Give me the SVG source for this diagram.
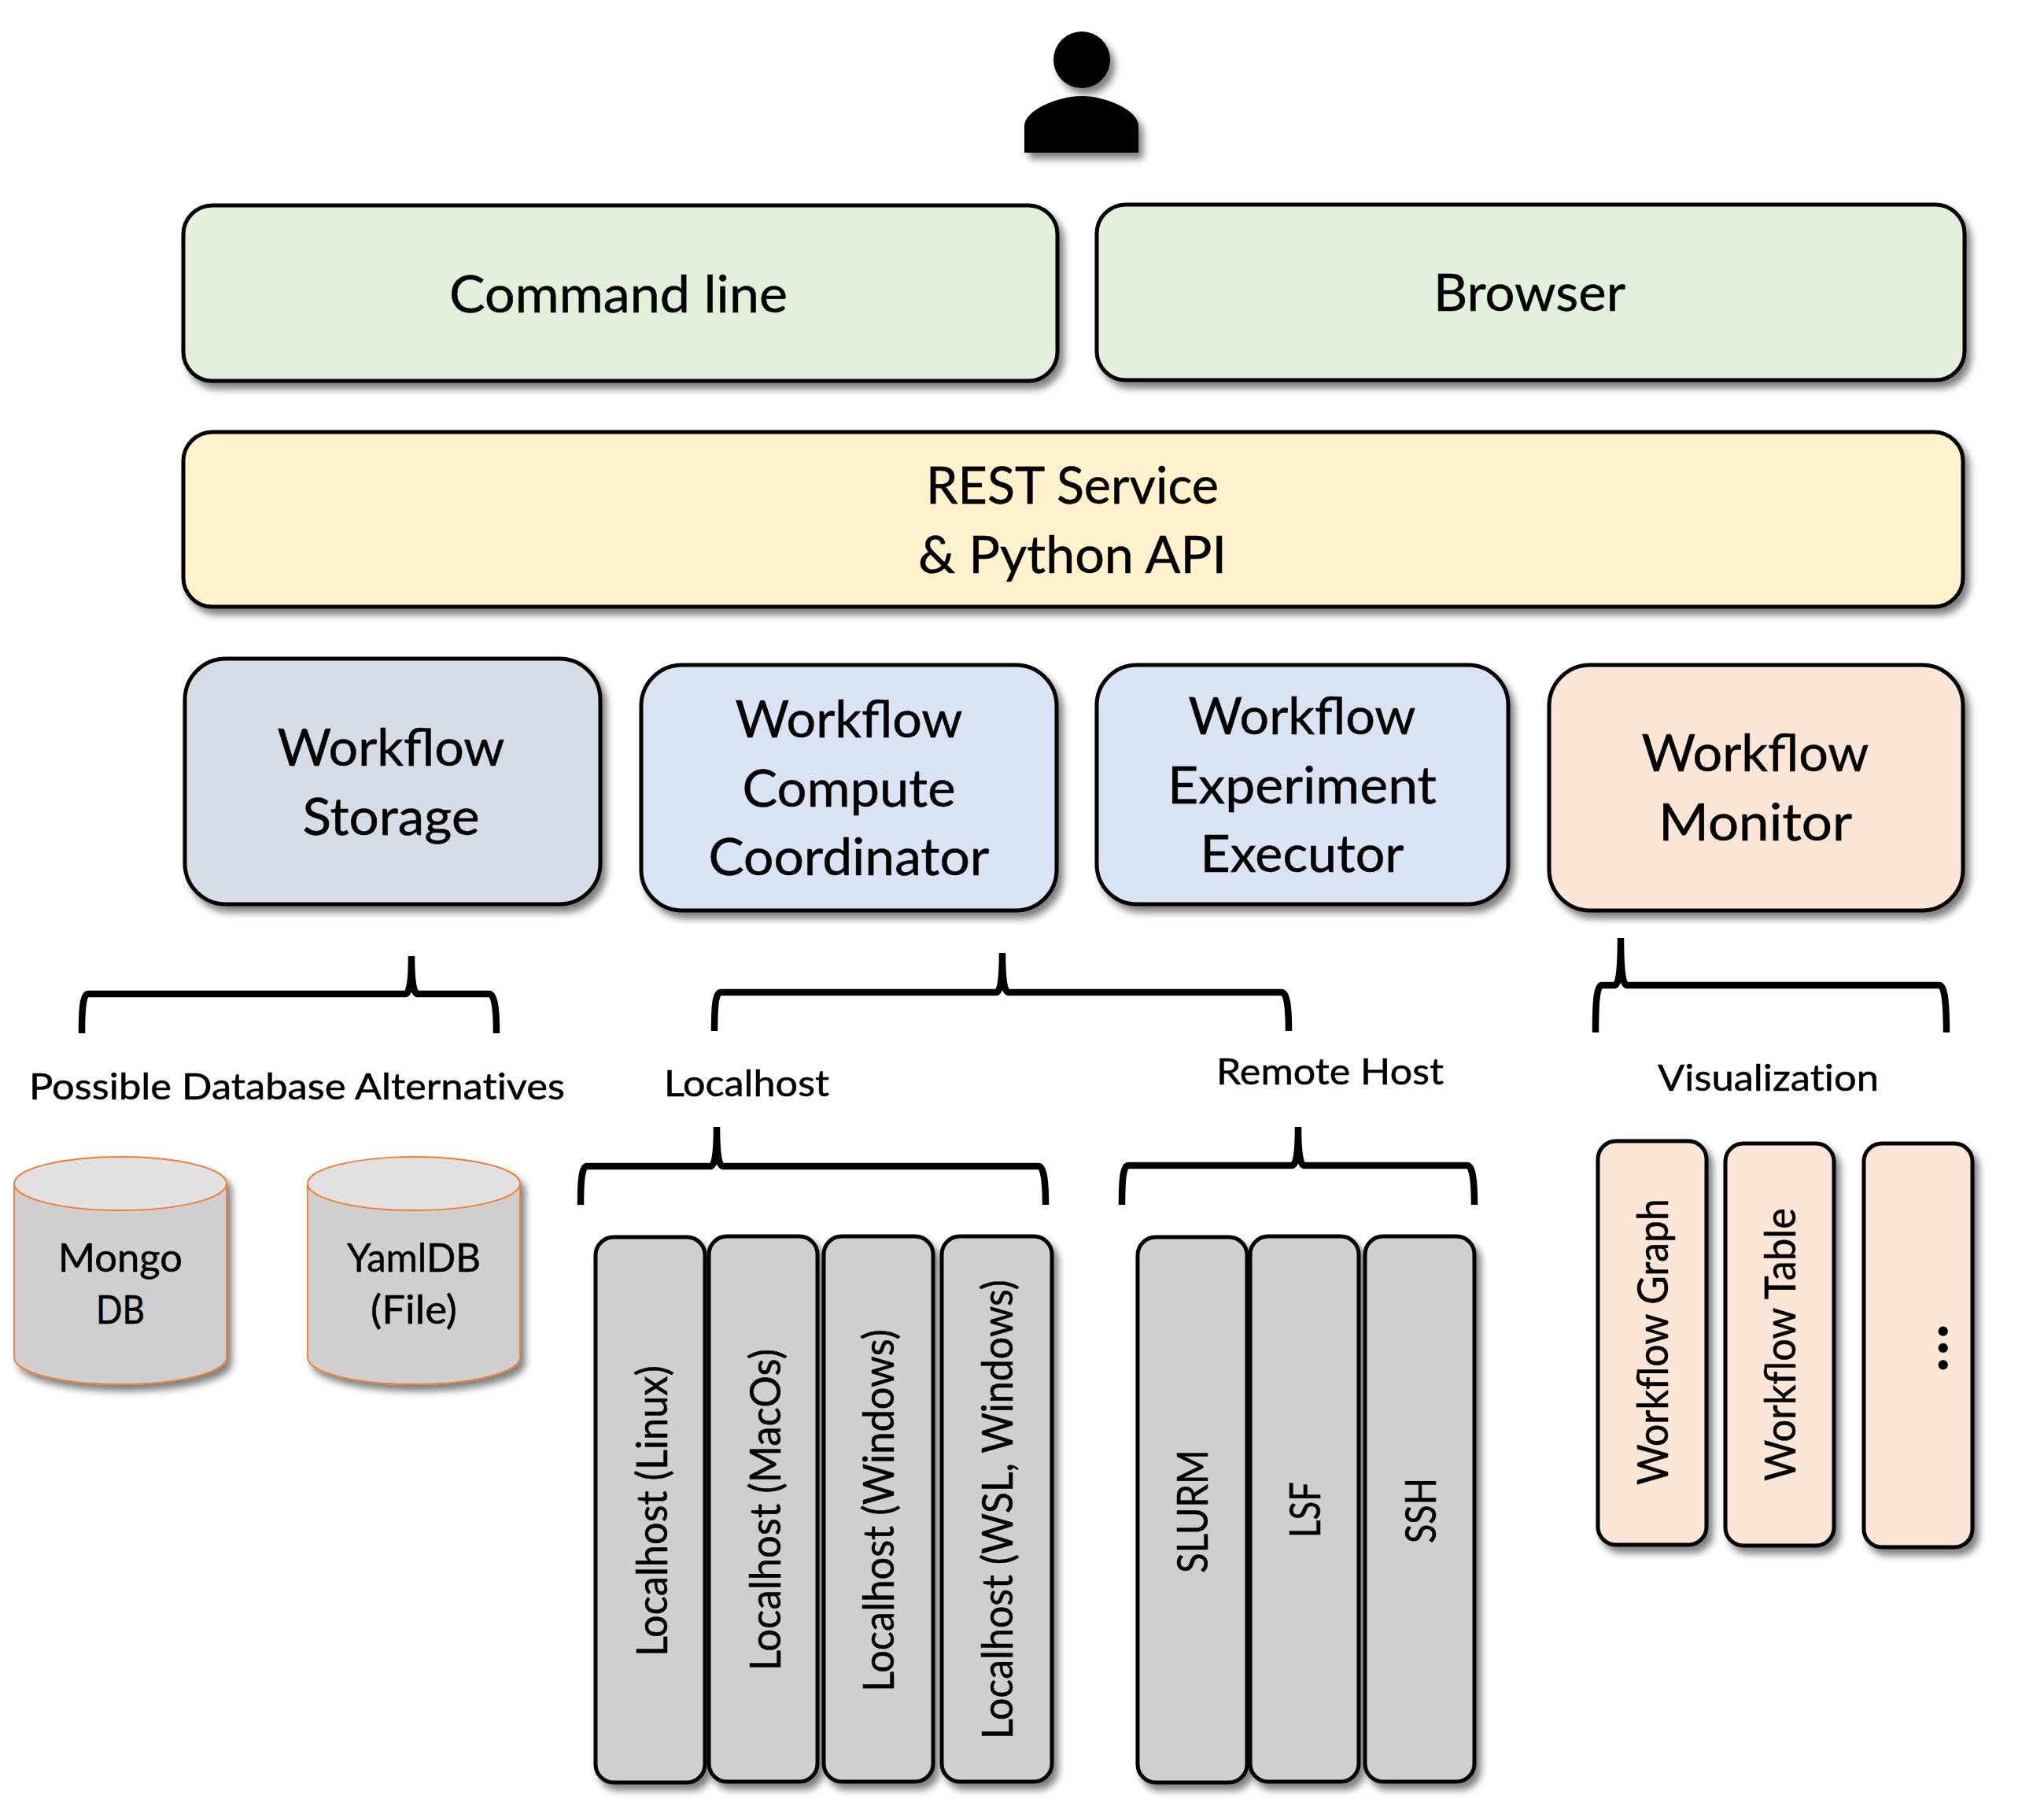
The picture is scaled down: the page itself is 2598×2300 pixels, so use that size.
<svg xmlns="http://www.w3.org/2000/svg" width="2598" height="2300" viewBox="0 0 2598 2300">
<style>
text{font-family:"Lato","Liberation Sans",sans-serif;fill:#000;stroke:#000;stroke-width:.5}
.b{stroke:#000;stroke-width:5;filter:url(#sh)}
.g{fill:#E2EFDA}.y{fill:#FFF2CC}.s{fill:#D6DCE5}.u{fill:#DAE3F3}.o{fill:#FBE5D6}.c{fill:#D0CECE}
.l{font-size:66px;text-anchor:middle}
.m{font-size:47px;text-anchor:start;font-variant-ligatures:none}
.r{font-size:54px;text-anchor:start}
.d{font-size:50px;text-anchor:middle}
.cy{fill:#D0CECE;stroke:#ED7D31;stroke-width:1.8}
.ct{fill:#E2E0E0;stroke:#ED7D31;stroke-width:1.8}
.br{fill:none;stroke:#000;stroke-width:8.5}
</style>
<defs>
<filter id="sh" x="-20%" y="-20%" width="150%" height="150%">
<feDropShadow dx="6" dy="8" stdDeviation="5" flood-color="#000" flood-opacity="0.5"/>
</filter>
</defs>
<rect width="2598" height="2300" fill="#fff"/>
<g id="user" filter="url(#sh)">
<ellipse cx="1375" cy="76" rx="36" ry="36"/>
<path d="M1302,194 V160 C1302,140 1345,122 1375,122 C1405,122 1447,140 1447,160 V194 Z"/>
</g>
<g id="connectors">
<path class="br" d="M104,1313 C104,1285 105,1263 112,1263 H515 C520,1263 523,1250 523,1215 C523,1250 526,1263 531,1263 H622 C629,1263 631,1285 631,1313"/>
<path class="br" d="M908,1310 C908,1282 909,1261 916,1261 H1266 C1271,1261 1274,1248 1274,1211 C1274,1248 1277,1261 1282,1261 H1629 C1636,1261 1638,1282 1638,1310"/>
<path class="br" d="M2028,1312 C2028,1277 2029,1252 2036,1252 H2052 C2057,1252 2060,1237 2060,1192 C2060,1237 2063,1252 2068,1252 H2465 C2472,1252 2474,1277 2474,1312"/>
<path class="br" d="M738,1531 C738,1503 739,1482 746,1482 H903 C908,1482 911,1469 911,1432 C911,1469 914,1482 919,1482 H1320 C1327,1482 1329,1503 1329,1531"/>
<path class="br" d="M1426,1531 C1426,1503 1427,1481 1434,1481 H1642 C1647,1481 1650,1468 1650,1432 C1650,1468 1653,1481 1658,1481 H1865 C1872,1481 1874,1503 1874,1531"/>
</g>
<g id="command-line"><rect class="b g" x="233" y="261" width="1111" height="223" rx="37"/><text class="l" x="786" y="397" textLength="430" lengthAdjust="spacingAndGlyphs">Command line</text></g>
<g id="browser"><rect class="b g" x="1394" y="260" width="1103" height="223" rx="37"/><text class="l" x="1944" y="395" textLength="244" lengthAdjust="spacingAndGlyphs">Browser</text></g>
<g id="rest"><rect class="b y" x="233" y="549" width="2262" height="222" rx="37"/><text class="l" x="1363" y="640" textLength="372" lengthAdjust="spacingAndGlyphs">REST Service</text><text class="l" x="1363" y="728" textLength="392" lengthAdjust="spacingAndGlyphs">&amp; Python API</text></g>
<g id="storage"><rect class="b s" x="235" y="837" width="528" height="312" rx="52"/><text class="l" x="497" y="973" textLength="289" lengthAdjust="spacingAndGlyphs">Workflow</text><text class="l" x="497" y="1061" textLength="225" lengthAdjust="spacingAndGlyphs">Storage</text></g>
<g id="compute"><rect class="b u" x="815" y="845" width="528" height="312" rx="52"/><text class="l" x="1079" y="937" textLength="289" lengthAdjust="spacingAndGlyphs">Workflow</text><text class="l" x="1079" y="1025" textLength="271" lengthAdjust="spacingAndGlyphs">Compute</text><text class="l" x="1079" y="1112" textLength="357" lengthAdjust="spacingAndGlyphs">Coordinator</text></g>
<g id="executor"><rect class="b u" x="1394" y="845" width="523" height="304" rx="51"/><text class="l" x="1655" y="933" textLength="289" lengthAdjust="spacingAndGlyphs">Workflow</text><text class="l" x="1655" y="1021" textLength="342" lengthAdjust="spacingAndGlyphs">Experiment</text><text class="l" x="1655" y="1108" textLength="259" lengthAdjust="spacingAndGlyphs">Executor</text></g>
<g id="monitor"><rect class="b o" x="1969" y="845" width="526" height="312" rx="52"/><text class="l" x="2231" y="980" textLength="289" lengthAdjust="spacingAndGlyphs">Workflow</text><text class="l" x="2231" y="1068" textLength="246" lengthAdjust="spacingAndGlyphs">Monitor</text></g>
<g id="label-db"><text class="m" x="37" y="1397" textLength="681" lengthAdjust="spacingAndGlyphs">Possible Database Alternatives</text></g>
<g id="label-localhost"><text class="m" x="844" y="1393" textLength="210" lengthAdjust="spacingAndGlyphs">Localhost</text></g>
<g id="label-remote"><text class="m" x="1546" y="1378" textLength="289" lengthAdjust="spacingAndGlyphs">Remote Host</text></g>
<g id="label-viz"><text class="m" x="2107" y="1386" textLength="281" lengthAdjust="spacingAndGlyphs">Visualization</text></g>
<g id="mongo"><g filter="url(#sh)"><path class="cy" d="M18,1504 V1725 A135,34 0 0 0 288,1725 V1504 Z"/><ellipse class="ct" cx="153" cy="1504" rx="135" ry="34"/></g><text class="d" x="153" y="1616" textLength="158" lengthAdjust="spacingAndGlyphs">Mongo</text><text class="d" x="153" y="1682" textLength="62" lengthAdjust="spacingAndGlyphs">DB</text></g>
<g id="yamldb"><g filter="url(#sh)"><path class="cy" d="M391,1504 V1725 A135,34 0 0 0 661,1725 V1504 Z"/><ellipse class="ct" cx="526" cy="1504" rx="135" ry="34"/></g><text class="d" x="526" y="1616" textLength="170" lengthAdjust="spacingAndGlyphs">YamlDB</text><text class="d" x="526" y="1682" textLength="110" lengthAdjust="spacingAndGlyphs">(File)</text></g>
<g id="local-linux"><rect class="b c" x="757" y="1572" width="139" height="693" rx="23"/><text class="r" transform="translate(848,2105) rotate(-90)" textLength="370" lengthAdjust="spacingAndGlyphs">Localhost (Linux)</text></g>
<g id="local-macos"><rect class="b c" x="901" y="1571" width="138" height="693" rx="23"/><text class="r" transform="translate(992,2123) rotate(-90)" textLength="409" lengthAdjust="spacingAndGlyphs">Localhost (MacOs)</text></g>
<g id="local-windows"><rect class="b c" x="1047" y="1571" width="139" height="693" rx="23"/><text class="r" transform="translate(1136,2150) rotate(-90)" textLength="461" lengthAdjust="spacingAndGlyphs">Localhost (Windows)</text></g>
<g id="local-wsl"><rect class="b c" x="1197" y="1571" width="140" height="693" rx="23"/><text class="r" transform="translate(1287,2210) rotate(-90)" textLength="584" lengthAdjust="spacingAndGlyphs">Localhost (WSL, Windows)</text></g>
<g id="slurm"><rect class="b c" x="1446" y="1572" width="139" height="693" rx="23"/><text class="r" transform="translate(1535,1999) rotate(-90)" textLength="157" lengthAdjust="spacingAndGlyphs">SLURM</text></g>
<g id="lsf"><rect class="b c" x="1589" y="1571" width="138" height="693" rx="23"/><text class="r" transform="translate(1678,1954) rotate(-90)" textLength="71" lengthAdjust="spacingAndGlyphs">LSF</text></g>
<g id="ssh"><rect class="b c" x="1735" y="1571" width="139" height="693" rx="23"/><text class="r" transform="translate(1825,1961) rotate(-90)" textLength="83" lengthAdjust="spacingAndGlyphs">SSH</text></g>
<g id="viz-graph"><rect class="b o" x="2031" y="1450" width="138" height="513" rx="23"/><text class="r" transform="translate(2120,1887) rotate(-90)" textLength="364" lengthAdjust="spacingAndGlyphs">Workflow Graph</text></g>
<g id="viz-table"><rect class="b o" x="2193" y="1453" width="138" height="511" rx="23"/><text class="r" transform="translate(2282,1882) rotate(-90)" textLength="347" lengthAdjust="spacingAndGlyphs">Workflow Table</text></g>
<g id="viz-more"><rect class="b o" x="2369" y="1453" width="138" height="513" rx="23"/><text class="r" style="font-size:72px;font-weight:900" transform="translate(2475,1743) rotate(-90)" textLength="60" lengthAdjust="spacing">...</text></g>
</svg>
